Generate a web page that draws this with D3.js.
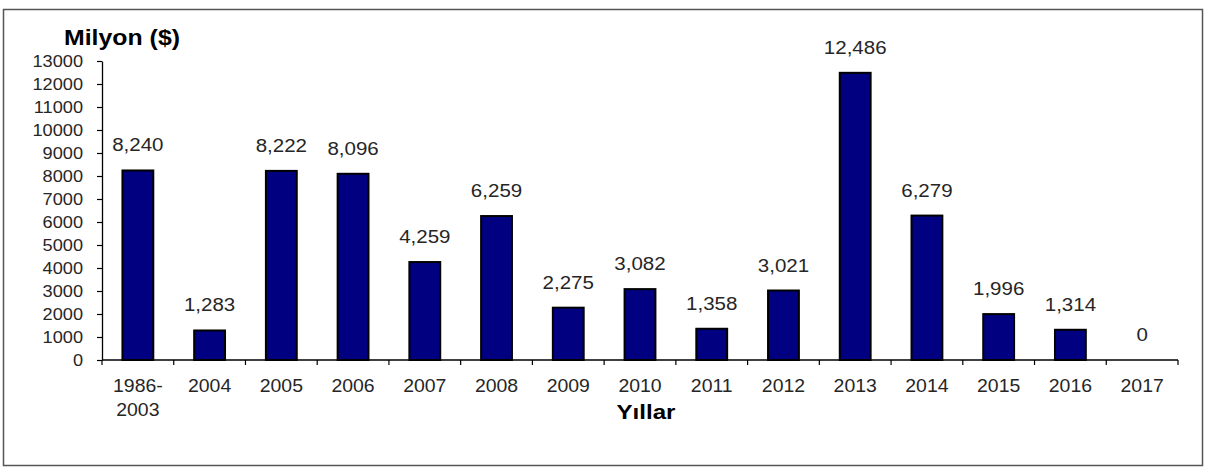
<!DOCTYPE html>
<html><head><meta charset="utf-8">
<script src="https://cdn.jsdelivr.net/npm/d3@7"></script>
<style>body{margin:0;background:#fff}svg{display:block}</style>
</head><body>
<svg id="c" width="1209" height="469"></svg>
<script>
const categories = ["1986-2003","2004","2005","2006","2007","2008","2009","2010","2011","2012","2013","2014","2015","2016","2017"];
const values = [8240,1283,8222,8096,4259,6259,2275,3082,1358,3021,12486,6279,1996,1314,0];
const yTicks = [0,1000,2000,3000,4000,5000,6000,7000,8000,9000,10000,11000,12000,13000];
const yTitle = "Milyon ($)";
const xTitle = "Yıllar";

const svg = d3.select("#c");
const font = "'Liberation Sans', Arial, sans-serif";
svg.append("rect").attr("x",3.5).attr("y",9.5).attr("width",1199).attr("height",456)
  .attr("fill","#fff").attr("stroke","#555").attr("stroke-width",1.5);

const x = d3.scaleBand().domain(categories).range([102,1178]).paddingInner(0.57).paddingOuter(0.285);
const y = d3.scaleLinear().domain([0,13000]).range([360,61]);
const xb = d3.scaleBand().domain(categories).range([102,1178]);

// helper: horizontally-stretched text
function stext(sel, tx, ty, str, size, anchor, sx, weight) {
  const g = sel.append("g").attr("transform", `translate(${tx},${ty}) scale(${sx},1)`);
  return g.append("text").attr("x",0).attr("y",0).attr("text-anchor",anchor)
    .attr("font-family",font).attr("font-size",size).attr("font-weight",weight||"normal")
    .attr("fill","#262626").text(str);
}

// bars
svg.selectAll("rect.bar").data(values.map((v,i)=>({v,c:categories[i]})).filter(d=>d.v>0))
  .enter().append("rect").attr("class","bar")
  .attr("x",d=>x(d.c)).attr("width",x.bandwidth())
  .attr("y",d=>y(d.v)).attr("height",d=>y(0)-y(d.v))
  .attr("fill","#000080").attr("stroke","#000").attr("stroke-width",2);

// y axis
const ya = svg.append("g").attr("transform","translate(102,0)")
  .call(d3.axisLeft(y).tickValues(yTicks).tickSize(5).tickSizeOuter(0).tickFormat(""));
ya.select(".domain").attr("stroke","#000").attr("stroke-width",1.3);
ya.selectAll(".tick line").attr("stroke","#000").attr("stroke-width",1.2);
yTicks.forEach(t => stext(svg, 83, y(t)+6, String(t), 17, "end", 1.07));

// x axis
const xa = svg.append("g").attr("transform","translate(0,360)");
xa.append("line").attr("x1",102).attr("x2",1178).attr("y1",0).attr("y2",0).attr("stroke","#000").attr("stroke-width",1.3);
const bounds = categories.map(c=>xb(c)).concat([1178]);
xa.selectAll("line.t").data(bounds).enter().append("line").attr("class","t")
  .attr("x1",d=>d).attr("x2",d=>d).attr("y1",0).attr("y2",5).attr("stroke","#000").attr("stroke-width",1.2);
categories.forEach(c => {
  const cx = xb(c)+xb.bandwidth()/2;
  const parts = c.includes("-") ? [c.split("-")[0]+"-", c.split("-")[1]] : [c];
  parts.forEach((p,i) => stext(svg, cx, 392 + i*24, p, 18, "middle", 1.08));
});

// data labels
const fmt = d3.format(",");
values.forEach((v,i) => {
  const cx = xb(categories[i])+xb.bandwidth()/2;
  stext(svg, cx, y(v)-19, fmt(v), 19, "middle", 1.08);
});

// titles
stext(svg, 122, 45, yTitle, 22, "middle", 1.13, "bold").attr("fill","#000");
stext(svg, 646, 419, xTitle, 21, "middle", 1.15, "bold").attr("fill","#000");
</script>
</body></html>
